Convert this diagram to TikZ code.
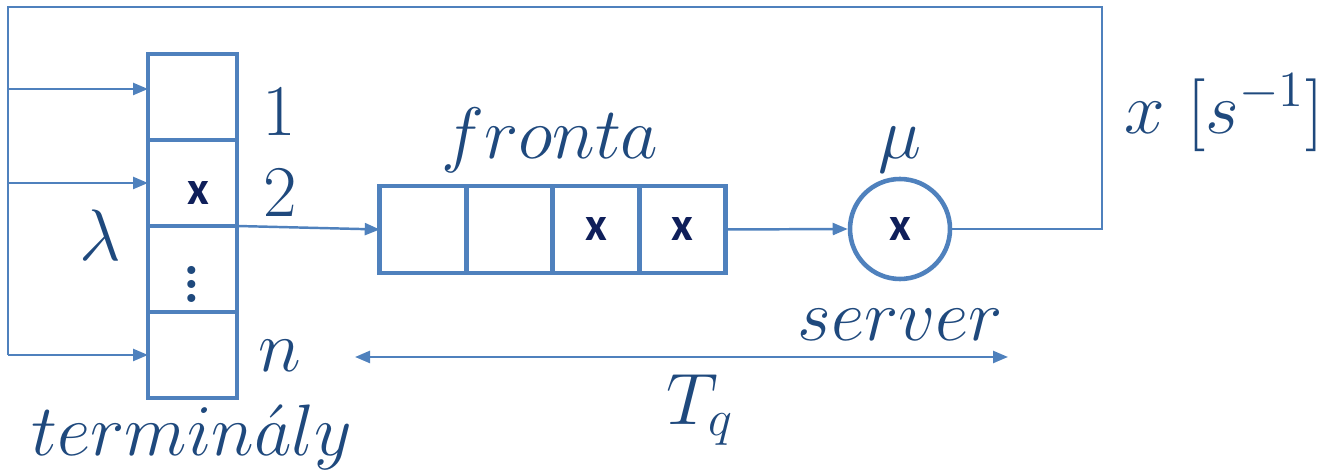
\documentclass[tikz,border=0pt]{standalone}
\usepackage{fontspec}
\usepackage{tikz}
\usetikzlibrary{positioning}
\usetikzlibrary{arrows.meta}
\newfontfamily\jobfont{Carlito}
\definecolor{qline}{HTML}{4F81BD}
\definecolor{qtext}{HTML}{1F497D}
\definecolor{qjob}{HTML}{0F1F5A}

\begin{document}
\begin{tikzpicture}[
            x=.1mm, y=-.1mm,
            cell/.style={draw=qline, line width=1.3pt, minimum width=8.9mm,
                minimum height=8.6mm, inner sep=0pt, outer sep=0pt},
            qcell/.style={cell, minimum width=8.65mm, minimum height=8.7mm},
            link/.style={draw=qline, line width=.7pt},
            arr/.style={link, -{Triangle[length=1.5mm, width=1.2mm]}},
            lbl/.style={text=qtext, font=\fontsize{21}{25}\selectfont, inner sep=0pt},
            jobx/.style={text=qjob, font=\jobfont\bfseries\fontsize{13.5}{15}\selectfont},
            node distance=0pt,
        ]
            \useasboundingbox (0, 0) rectangle (1324, 474);

            %% terminals
            \node[cell] (t1) at (192.5, 97) {};
            \node[cell, below=of t1] (t2) {};
            \node[cell, below=of t2] (t3) {};
            \node[cell, below=of t3] (tn) {};
            \node[jobx] (tx) at (198, 193) {x};
            \node[text=qtext, font=\fontsize{28}{30}\selectfont, inner sep=0pt] (tdots) at (192, 274) {$\vdots$};

            %% queue
            \node[qcell] (f1) at (423, 229.5) {};
            \node[qcell, right=of f1] (f2) {};
            \node[qcell, right=of f2] (f3) {};
            \node[qcell, right=of f3] (f4) {};
            \node[jobx] (fx3) at (f3) {x};
            \node[jobx] (fx4) at (f4) {x};

            %% server
            \node[draw=qline, line width=1.3pt, circle, minimum size=10mm,
                inner sep=0pt] (srv) at (900, 229) {};
            \node[jobx] (sx) at (srv) {x};

            %% feedback loop
            \coordinate (fbR) at (1102, 7);
            \coordinate (fbL) at (8, 0 |- tn.west);
            \coordinate (t1in) at ([yshift=.8mm]t1.west);
            \draw[link] (srv.east) -| (fbR) -| (fbL);
            \draw[arr] (fbL) -- (tn.west);
            \draw[arr] (fbL |- t1in) -- (t1in);
            \draw[arr] (fbL |- t2.west) -- (t2.west);
            \draw[arr] (t2.south east) -- (f1.west);
            \draw[arr] (f4.east) -- (srv.west);

            %% response time
            \coordinate (tqL) at (355, 357);
            \coordinate (tqR) at (1008, 357);
            \draw[arr, {Triangle[length=1.5mm, width=1.2mm]}-{Triangle[length=1.5mm, width=1.2mm]}] (tqL) -- (tqR);

            %% labels
            \node[lbl] (l1) at (279, 112) {$1$};
            \node[lbl] (l2) at (280, 193) {$2$};
            \node[lbl] (ln) at (280, 356) {$n$};
            \node[lbl] (lam) at (100, 235) {$\lambda$};
            \node[lbl, font=\fontsize{19.5}{23}\selectfont] (lterm) at (192, 437) {$termin\acute{a}ly$};
            \node[lbl] (lfront) at (550, 140) {$fronta$};
            \node[lbl] (lmu) at (900, 150) {$\mu$};
            \node[lbl] (lsrv) at (900, 325) {$server$};
            \node[lbl] (ltq) at (700, 410) {$T_q$};
            \node[lbl] (lx) at (1224, 113) {$x\ [s^{-1}]$};
        \end{tikzpicture}
\end{document}
